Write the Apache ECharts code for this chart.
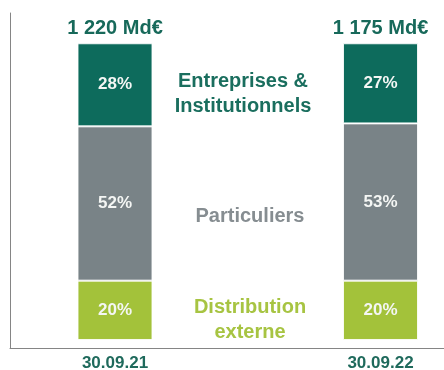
<!DOCTYPE html>
<html>
<head>
<meta charset="utf-8">
<script src="https://cdn.jsdelivr.net/npm/echarts@6/dist/echarts.min.js"></script>
<style>
  html, body { margin: 0; padding: 0; background: #ffffff; }
  #chart { width: 444px; height: 370px; }
</style>
</head>
<body>
<div id="chart"></div>
<script>
// Period end dates
const categories = ['30.09.21', '30.09.22'];
// Total outstanding shown above each bar
const totals = ['1 220 Md€', '1 175 Md€'];
// Share of each client segment (%), bottom to top
const distribution = [20, 20];
const particuliers = [52, 53];
const entreprises = [28, 27];
// Segment names written beside the second bar
const segmentNames = ['Distribution\nexterne', 'Particuliers', 'Entreprises &\nInstitutionnels'];

const FONT = '"Liberation Sans", Arial, sans-serif';
const segColors = ['#a3c23a', '#798387', '#0d6b5c'];
const nameColors = ['#a7c442', '#868d91', '#1a6e5e'];
const nameOffsets = [[-93, 10], [-93, 14], [-100, 11]];
const segValues = [distribution, particuliers, entreprises];
const AXIS_COLOR = '#858585';

const chart = echarts.init(document.getElementById('chart'), null, { renderer: 'canvas' });

const series = [];
// Stacked segments with their percentage inside
segValues.forEach(function (vals, i) {
  series.push({
    name: segmentNames[i],
    type: 'bar',
    stack: 'share',
    barWidth: 75,
    barGap: '-100%',
    data: vals,
    itemStyle: { color: segColors[i], borderColor: 'rgba(255,255,255,0.85)', borderWidth: 1 },
    label: {
      show: true,
      position: 'inside',
      formatter: '{c}%',
      color: '#f4f6f4',
      fontFamily: FONT,
      fontWeight: 'bold',
      fontSize: 17
    },
    emphasis: { disabled: true },
    silent: true
  });
});
// Zero-height cap carrying the totals on top of each stack
series.push({
  type: 'bar',
  stack: 'share',
  barWidth: 75,
  data: totals.map(function () { return 0; }),
  itemStyle: { color: 'transparent' },
  label: {
    show: true,
    position: 'top',
    distance: 5,
    formatter: function (p) { return totals[p.dataIndex]; },
    color: '#17695a',
    fontFamily: FONT,
    fontWeight: 'bold',
    fontSize: 20
  },
  silent: true
});
// Transparent twin of the second bar, used to set the segment names beside it
segValues.forEach(function (vals, i) {
  series.push({
    type: 'bar',
    stack: 'names',
    barWidth: 75,
    barGap: '-100%',
    data: vals.map(function (v, j) { return j === vals.length - 1 ? v : '-'; }),
    itemStyle: { color: 'transparent' },
    label: {
      show: true,
      position: ['0%', '50%'],
      offset: nameOffsets[i],
      align: 'center',
      verticalAlign: 'middle',
      formatter: segmentNames[i],
      color: nameColors[i],
      fontFamily: FONT,
      fontWeight: 'bold',
      fontSize: 20,
      lineHeight: 25
    },
    silent: true
  });
});

chart.setOption({
  animation: false,
  backgroundColor: '#ffffff',
  grid: [
    // plotting area for the bars
    {
      left: -17.75, width: 531, top: 13, bottom: 21.7,
      containLabel: false,
      outerBoundsMode: 'none'
    },
    // frame carrying the two axis lines
    {
      left: 10, right: 0, top: 13, bottom: 21.7,
      containLabel: false,
      outerBoundsMode: 'none'
    }
  ],
  xAxis: [
    {
      type: 'category',
      gridIndex: 0,
      data: categories,
      axisLine: { show: false },
      axisTick: { show: false },
      axisLabel: {
        margin: 7,
        color: '#1f6a5c',
        fontFamily: FONT,
        fontWeight: 'bold',
        fontSize: 17
      }
    },
    {
      type: 'value',
      gridIndex: 1,
      min: 0,
      max: 1,
      axisLine: { show: true, lineStyle: { color: AXIS_COLOR, width: 1 } },
      axisTick: { show: false },
      axisLabel: { show: false },
      splitLine: { show: false }
    }
  ],
  yAxis: [
    {
      type: 'value',
      gridIndex: 0,
      min: -2.8,
      max: 110.2,
      axisLine: { show: false },
      axisTick: { show: false },
      axisLabel: { show: false },
      splitLine: { show: false }
    },
    {
      type: 'value',
      gridIndex: 1,
      min: 0,
      max: 1,
      axisLine: { show: true, lineStyle: { color: AXIS_COLOR, width: 1 } },
      axisTick: { show: false },
      axisLabel: { show: false },
      splitLine: { show: false }
    }
  ],
  series: series
});
</script>
</body>
</html>
